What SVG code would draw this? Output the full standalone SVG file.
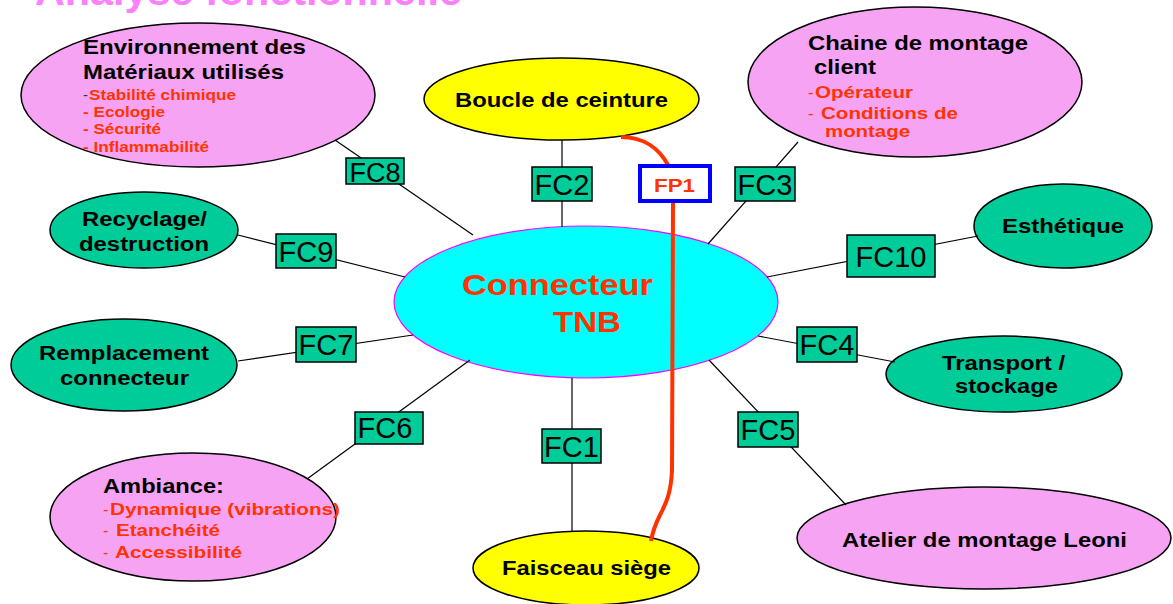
<svg xmlns="http://www.w3.org/2000/svg" width="1173" height="604" viewBox="0 0 1173 604">
<style>
.pink{fill:#F7A3F3;stroke:#000;stroke-width:1.5}
.green{fill:#00CC99;stroke:#000;stroke-width:1.5}
.yellow{fill:#FFFF00;stroke:#000;stroke-width:1.5}
.core{fill:#00FFFF;stroke:#FF00FF;stroke-width:1.2}
.box{fill:#00CC99;stroke:#000;stroke-width:1.5}
.lbl{font-family:"Liberation Sans",Arial,sans-serif;font-weight:bold;font-size:21px;fill:#000}
.sub{font-family:"Liberation Sans",Arial,sans-serif;font-weight:bold;font-size:15px;fill:#FF3300}
.dash{font-family:"Liberation Sans",Arial,sans-serif;font-weight:normal;font-size:15px;fill:#FF3300}
.fc{font-family:"Liberation Sans",Arial,sans-serif;font-size:29px;fill:#000;text-anchor:middle}
.wire{stroke:#000;stroke-width:1.2;fill:none}
.red{stroke:#FF3300;stroke-width:4;fill:none}
</style>
<rect width="1173" height="604" fill="#FFFFFF"/>
<text x="35" y="5" font-family="Liberation Sans, Arial, sans-serif" font-weight="bold" font-size="40" fill="#FF80FF" textLength="427" lengthAdjust="spacingAndGlyphs">Analyse fonctionnelle</text>

<g id="node-core">
<ellipse class="core" cx="586" cy="302" rx="192" ry="76"/>
<text class="lbl" x="462" y="295" style="font-size:30px;fill:#FF3300" textLength="191" lengthAdjust="spacingAndGlyphs">Connecteur</text>
<text class="lbl" x="553" y="332" style="font-size:30px;fill:#FF3300" textLength="68" lengthAdjust="spacingAndGlyphs">TNB</text>
</g>

<g id="node-environnement">
<ellipse class="pink" cx="198" cy="95" rx="177" ry="72"/>
<text class="lbl" x="83" y="54" textLength="223" lengthAdjust="spacingAndGlyphs">Environnement des</text>
<text class="lbl" x="83" y="79" textLength="201" lengthAdjust="spacingAndGlyphs">Matériaux utilisés</text>
<text class="dash" x="83" y="100" style="fill:#333">-</text>
<text class="sub" x="89" y="100" textLength="147" lengthAdjust="spacingAndGlyphs">Stabilité chimique</text>
<text class="sub" x="83" y="117" textLength="82" lengthAdjust="spacingAndGlyphs">- Ecologie</text>
<text class="sub" x="83" y="134" textLength="78" lengthAdjust="spacingAndGlyphs">- Sécurité</text>
<text class="sub" x="83" y="152" textLength="126" lengthAdjust="spacingAndGlyphs">- Inflammabilité</text>
</g>

<g id="node-boucle">
<ellipse class="yellow" cx="561.5" cy="99" rx="137.5" ry="41"/>
<text class="lbl" x="455" y="107" textLength="213" lengthAdjust="spacingAndGlyphs">Boucle de ceinture</text>
</g>

<g id="node-chaine">
<ellipse class="pink" cx="915" cy="82" rx="167" ry="75"/>
<text class="lbl" x="808" y="50" textLength="220" lengthAdjust="spacingAndGlyphs">Chaine de montage</text>
<text class="lbl" x="814" y="74" textLength="62" lengthAdjust="spacingAndGlyphs">client</text>
<text class="dash" x="808" y="98" style="font-size:17px">-</text>
<text class="sub" x="815" y="98" style="font-size:17px" textLength="98" lengthAdjust="spacingAndGlyphs">Opérateur</text>
<text class="dash" x="808" y="119" style="font-size:17px">-</text>
<text class="sub" x="821" y="119" style="font-size:17px" textLength="137" lengthAdjust="spacingAndGlyphs">Conditions de</text>
<text class="sub" x="825" y="137" style="font-size:17px" textLength="85" lengthAdjust="spacingAndGlyphs">montage</text>
</g>

<g id="node-recyclage">
<ellipse class="green" cx="144" cy="230" rx="94" ry="38"/>
<text class="lbl" x="82" y="226" style="font-size:20px" textLength="125" lengthAdjust="spacingAndGlyphs">Recyclage/</text>
<text class="lbl" x="79" y="251" style="font-size:20px" textLength="130" lengthAdjust="spacingAndGlyphs">destruction</text>
</g>

<g id="node-esthetique">
<ellipse class="green" cx="1063" cy="226" rx="89" ry="42"/>
<text class="lbl" x="1002" y="233" textLength="122" lengthAdjust="spacingAndGlyphs">Esthétique</text>
</g>

<g id="node-remplacement">
<ellipse class="green" cx="124" cy="365" rx="113" ry="46"/>
<text class="lbl" x="39" y="360" style="font-size:20px" textLength="170" lengthAdjust="spacingAndGlyphs">Remplacement</text>
<text class="lbl" x="60" y="385" style="font-size:20px" textLength="129" lengthAdjust="spacingAndGlyphs">connecteur</text>
</g>

<g id="node-transport">
<ellipse class="green" cx="1004" cy="374" rx="118" ry="38"/>
<text class="lbl" x="942" y="370" style="font-size:20px" textLength="123" lengthAdjust="spacingAndGlyphs">Transport /</text>
<text class="lbl" x="955" y="393" style="font-size:20px" textLength="103" lengthAdjust="spacingAndGlyphs">stockage</text>
</g>

<g id="node-ambiance">
<ellipse class="pink" cx="193" cy="517" rx="143" ry="64"/>
<text class="lbl" x="103" y="493" style="font-size:20px" textLength="121" lengthAdjust="spacingAndGlyphs">Ambiance:</text>
<text class="dash" x="103" y="515" style="font-size:16px">-</text>
<text class="sub" x="110" y="515" style="font-size:16px" textLength="230" lengthAdjust="spacingAndGlyphs">Dynamique (vibrations)</text>
<text class="dash" x="103" y="536" style="font-size:16px">-</text>
<text class="sub" x="116" y="536" style="font-size:16px" textLength="104" lengthAdjust="spacingAndGlyphs">Etanchéité</text>
<text class="dash" x="103" y="558" style="font-size:16px">-</text>
<text class="sub" x="115" y="558" style="font-size:16px" textLength="127" lengthAdjust="spacingAndGlyphs">Accessibilité</text>
</g>

<g id="node-faisceau">
<ellipse class="yellow" cx="586" cy="568" rx="113" ry="37"/>
<text class="lbl" x="502" y="575" style="font-size:20px" textLength="169" lengthAdjust="spacingAndGlyphs">Faisceau siège</text>
</g>

<g id="node-atelier">
<ellipse class="pink" cx="984" cy="538" rx="187" ry="51"/>
<text class="lbl" x="842" y="547" style="font-size:20px" textLength="285" lengthAdjust="spacingAndGlyphs">Atelier de montage Leoni</text>
</g>

<g id="connectors">
<line class="wire" x1="335" y1="140" x2="473" y2="235"/>
<line class="wire" x1="562" y1="140" x2="562" y2="227"/>
<line class="wire" x1="708" y1="244" x2="798" y2="142"/>
<line class="wire" x1="238" y1="235" x2="405" y2="277"/>
<line class="wire" x1="767" y1="277" x2="978" y2="236"/>
<line class="wire" x1="238" y1="361" x2="413" y2="335"/>
<line class="wire" x1="758" y1="336" x2="895" y2="362"/>
<line class="wire" x1="470" y1="360" x2="307" y2="479"/>
<line class="wire" x1="572" y1="378" x2="572" y2="531"/>
<line class="wire" x1="709" y1="360" x2="846" y2="505"/>
<path class="red" d="M621,137 C645,137 660,150 668,165"/>
<path class="red" d="M673,203 L672,470 C671,495 665,505 660,515 C655,525 652,535 651,541"/>
</g>

<g id="fc8"><rect class="box" x="346" y="158" width="58" height="26"/><text class="fc" x="375" y="182" style="font-size:27px">FC8</text></g>
<g id="fc2"><rect class="box" x="532" y="167" width="60" height="34"/><text class="fc" x="562" y="194.5">FC2</text></g>
<g id="fp1"><rect x="640" y="166" width="70" height="35" fill="#FFFFFF" stroke="#0000FF" stroke-width="4"/><text class="lbl" x="654" y="192" style="font-size:19px;fill:#FF3300" textLength="41" lengthAdjust="spacingAndGlyphs">FP1</text></g>
<g id="fc3"><rect class="box" x="735" y="167" width="60" height="34"/><text class="fc" x="765" y="194.5">FC3</text></g>
<g id="fc9"><rect class="box" x="276" y="234" width="60" height="34"/><text class="fc" x="306" y="261.5">FC9</text></g>
<g id="fc10"><rect class="box" x="847" y="235" width="88" height="42"/><text class="fc" x="891" y="266.5">FC10</text></g>
<g id="fc7"><rect class="box" x="296" y="327" width="60" height="35"/><text class="fc" x="326" y="355">FC7</text></g>
<g id="fc4"><rect class="box" x="797" y="327" width="60" height="35"/><text class="fc" x="827" y="355">FC4</text></g>
<g id="fc6"><rect class="box" x="355" y="412" width="68" height="32"/><text class="fc" x="385" y="438">FC6</text></g>
<g id="fc1"><rect class="box" x="542" y="429" width="59" height="34"/><text class="fc" x="571.5" y="456.5">FC1</text></g>
<g id="fc5"><rect class="box" x="738" y="412" width="60" height="35"/><text class="fc" x="768" y="440">FC5</text></g>
</svg>
